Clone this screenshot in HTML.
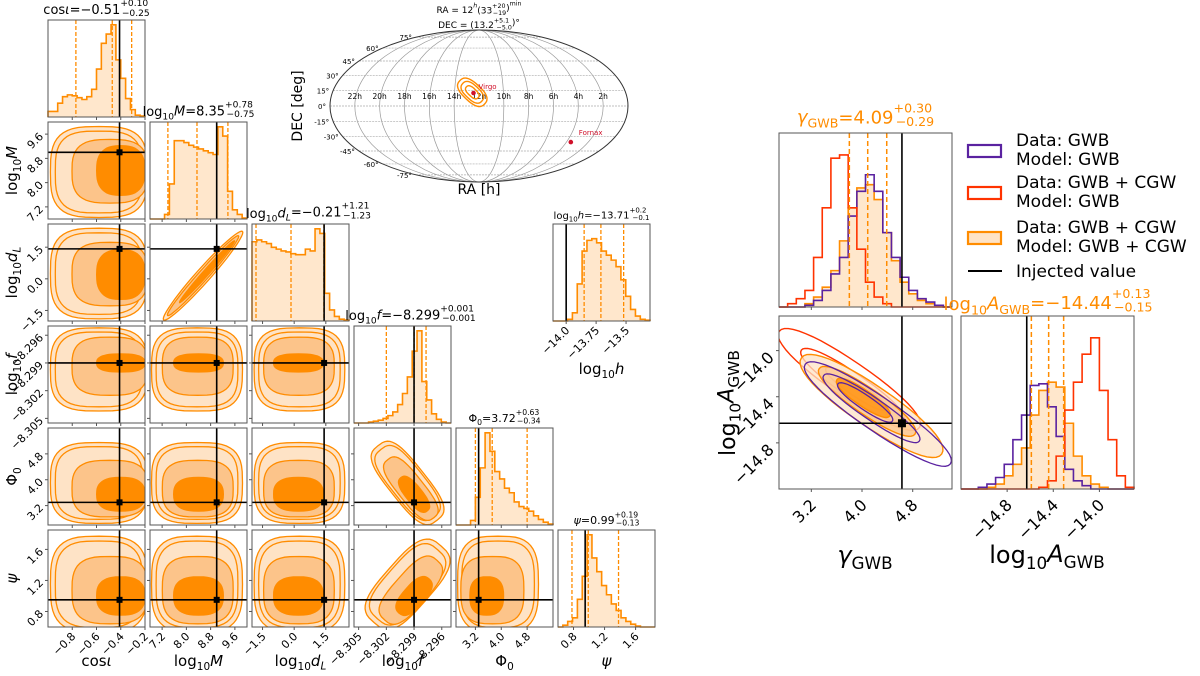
<!DOCTYPE html>
<html><head><meta charset="utf-8"><style>
html,body{margin:0;padding:0;background:#fff;}
svg{display:block;font-family:"DejaVu Sans","Liberation Sans",sans-serif;}
</style></head><body>
<svg id="fig" width="1200" height="676" viewBox="0 0 1200 676" xmlns="http://www.w3.org/2000/svg"></svg>
<script>
// ---------- DATA ----------
const paramNames = ["cosι","log10M","log10dL","log10f","Φ0","ψ"];
const paramRanges = [[-1.0,-0.2],[6.8,10.0],[-2.0,2.6],[-8.3055,-8.2950],[2.6,5.6],[0.6,1.85]];
const paramTruth = [-0.41, 9.0, 1.42, -8.2990, 3.3, 0.95];
const paramTicks = [[-0.8,-0.6,-0.4,-0.2],[7.2,8.0,8.8,9.6],[-1.5,0.0,1.5],[-8.305,-8.302,-8.299,-8.296],[3.2,4.0,4.8],[0.8,1.2,1.6]];
const paramTickLabels = [["−0.8","−0.6","−0.4","−0.2"],["7.2","8.0","8.8","9.6"],["−1.5","0.0","1.5"],["−8.305","−8.302","−8.299","−8.296"],["3.2","4.0","4.8"],["0.8","1.2","1.6"]];
const paramQuantiles = [[-0.77,-0.47,-0.31],[7.39,8.35,9.37],[-1.81,-0.15,1.41],[-8.3020,-8.2990,-8.2977],[3.2,3.72,4.8],[0.78,0.99,1.38]];
const histCos = [0.06,0.06,0.15,0.22,0.24,0.23,0.21,0.19,0.22,0.3,0.52,0.8,0.9,1.0,0.62,0.42,0.2,0.08,0.02,0.01];
const histM = [0,0,0,0.05,0.38,0.85,0.85,0.83,0.8,0.78,0.76,0.74,0.72,0.7,1.0,0.9,0.3,0.1,0.05,0.01];
const histDL = [0.86,0.88,0.86,0.84,0.8,0.78,0.76,0.75,0.73,0.72,0.72,0.78,0.76,1.0,0.95,0.3,0.12,0.05,0.02,0.01];
const histF = [0,0,0,0.01,0.02,0.03,0.05,0.08,0.12,0.2,0.32,0.5,0.78,1.0,0.45,0.25,0.1,0.04,0.01,0];
const histPhi = [0,0,0,0.05,0.3,0.62,1.0,0.8,0.58,0.5,0.4,0.35,0.25,0.2,0.18,0.15,0.1,0.06,0.03,0.01];
const histPsi = [0,0.02,0.06,0.1,0.3,0.55,1.0,0.75,0.6,0.45,0.35,0.25,0.18,0.1,0.06,0.03,0.01,0,0,0];
const diagHists = [histCos,histM,histDL,histF,histPhi,histPsi];
// 2D blobs (data units): centre, half-width, core centre, core scale
const blobCenter = [-0.58, 8.35, 0.25, -8.2997, 3.9, 1.15];
const blobHalfWidth = [0.40, 1.5, 2.15, 0.0045, 1.25, 0.62];
const blobCore = [-0.40, 8.4, 0.2, -8.2990, 3.55, 1.0];
const blobCoreScale = [0.5, 0.55, 0.55, 0.22, 0.42, 0.4];
// log10 h
const hRange = [-14.11,-13.3];
const hTicks = [-14.0,-13.75,-13.5];
const hTickLabels = ["−14.0","−13.75","−13.5"];
const hHist = [0,0,0,0.02,0.1,0.45,0.85,0.98,1.0,0.95,0.85,0.8,0.74,0.66,0.5,0.3,0.14,0.06,0.02,0.01];
const hQuantiles = [-13.85,-13.71,-13.52];
const hTruth = -14.0;
// sky map
const skyContour = [12.55, 13.2];
const virgo = [12.45, 12.5];
const fornax = [3.6, -35.5];
// GWB corner
const gRange = [2.69,5.42];
const aRange = [-15.2,-13.7];
const gTicks = [3.2,4.0,4.8];
const aTicks = [-14.8,-14.4,-14.0];
const gTruth = 4.63;
const aTruth = -14.63;
const gQuantiles = [3.80,4.09,4.39];
const aQuantiles = [-14.59,-14.44,-14.31];
const gHistOrange = [0,0,0,0.02,0.06,0.12,0.22,0.4,0.6,0.72,0.74,0.65,0.45,0.28,0.15,0.08,0.04,0.02,0.01,0];
const gHistPurple = [0,0,0,0.01,0.04,0.1,0.2,0.3,0.55,0.7,0.8,0.7,0.45,0.3,0.18,0.1,0.05,0.03,0.01,0];
const gHistRed = [0,0.02,0.05,0.1,0.3,0.6,0.9,0.92,0.6,0.35,0.15,0.06,0.02,0,0,0,0,0,0,0];
const aHistOrange = [0,0,0,0.01,0.03,0.08,0.15,0.25,0.45,0.6,0.65,0.62,0.4,0.2,0.08,0.03,0.01,0,0,0];
const aHistPurple = [0,0,0.01,0.03,0.07,0.15,0.3,0.45,0.63,0.64,0.5,0.32,0.12,0.05,0.02,0,0,0,0,0];
const aHistRed = [0,0,0,0,0,0,0,0,0,0.01,0.05,0.2,0.48,0.65,0.82,0.92,0.6,0.3,0.08,0.01];
// ellipse series: [gamma, A, longPx, shortPx]
const ellOrange = [[4.15,-14.48,85,20],[4.08,-14.44,58,13],[4.02,-14.41,32,8]];
const ellPurple = [[4.25,-14.55,88,17],[4.15,-14.5,58,11],[4.05,-14.45,33,7]];
const ellRed = [[3.8,-14.25,85,18],[3.85,-14.3,62,12],[3.9,-14.33,36,7]];

// ---------- HELPERS ----------
const NS="http://www.w3.org/2000/svg";
const svg=document.getElementById('fig');
function el(tag,attrs,parent){const e=document.createElementNS(NS,tag);for(const k in attrs)e.setAttribute(k,attrs[k]);(parent||svg).appendChild(e);return e;}
const OR="#ff8c00", LIGHT="#fee3c6", MID="#fcc48a", PUR="#5a22a0", RED="#ff3300", FR="#555";
function lin(r,a,b){return v=>a+(v-r[0])/(r[1]-r[0])*(b-a);}
function stepPath(counts,xs,y0,h,maxv){let d="";const n=counts.length;for(let k=0;k<n;k++){const x1=xs(k/n),x2=xs((k+1)/n),y=y0-counts[k]/maxv*h;d+=(k===0?`M${x1},${y0}L${x1},${y}`:`L${x1},${y}`)+`L${x2},${y}`;}d+=`L${xs(1)},${y0}`;return d;}
function drawHist(counts,px,py,w,h,color,fill,maxv,name){
  const d=stepPath(counts,f=>px+f*w,py+h,h*0.95,maxv);
  const p=el('path',{d:d,fill:fill?fill:"none","fill-opacity":fill?0.55:1,stroke:color,"stroke-width":1.6});
  
  
}
function frame(x,y,w,h,name){const r=el('rect',{x:x,y:y,width:w,height:h,fill:"none",stroke:FR,"stroke-width":1});}
function superPath(cx,cy,a,b,ang,n){let d="";for(let k=0;k<=48;k++){const t=k/48*2*Math.PI,c=Math.cos(t),s=Math.sin(t);let x=a*Math.sign(c)*Math.pow(Math.abs(c),2/n),y=b*Math.sign(s)*Math.pow(Math.abs(s),2/n);const ca=Math.cos(ang),sa=Math.sin(ang);d+=(k?"L":"M")+(cx+x*ca-y*sa).toFixed(1)+","+(cy+x*sa+y*ca).toFixed(1);}return d+"Z";}
function text(str,x,y,size,opts,parent){const t=el('text',Object.assign({x:x,y:y,"font-size":size,fill:"#000","text-anchor":"middle"},opts||{}),parent);t.textContent=str;return t;}
function mathTitle(parts,x,y,size,color,name){
  const t=el('text',{x:x,y:y,"font-size":size,fill:color||"#000","text-anchor":"middle"});
  
  parts.forEach(p=>{const s=el('tspan',{},t);if(p.sub){s.setAttribute('font-size',size*0.7);s.setAttribute('dy',size*0.25);}if(p.it)s.setAttribute('font-style','italic');if(p.up){s.setAttribute('font-size',size*0.7);s.setAttribute('dy',-size*0.6);}if(p.dn){s.setAttribute('font-size',size*0.7);s.setAttribute('dx',-size*0.7*p.w);s.setAttribute('dy',size*0.75);}if(p.back)s.setAttribute('dy',p.back);s.textContent=p.t;});
  return t;
}

// ---------- CORNER GRID ----------
const X0=48,Y0=20,STEP=102,S=97;
const xp=[];
for(let i=0;i<6;i++){xp.push(lin(paramRanges[i],X0+i*STEP,X0+i*STEP+S));}
for(let i=0;i<6;i++){
  for(let j=0;j<i;j++){
    const px=X0+j*STEP,py=Y0+i*STEP;
    const g=el('g',{});
    el('clipPath',{id:`c${j}${i}`},g);el('rect',{x:px,y:py,width:S,height:S},g.lastChild);
    const cg=el('g',{"clip-path":`url(#c${j}${i})`},g);
    const X=xp[j];
    const Yrow=lin(paramRanges[i],py+S,py);
    if(j===1&&i===2){
      const x1=X(7.25),y1=Yrow(-1.95),x2=X(9.85),y2=Yrow(2.25);
      const ang=Math.atan2(y2-y1,x2-x1),L=Math.hypot(x2-x1,y2-y1)/2,cx=(x1+x2)/2,cy=(y1+y2)/2;
      el('path',{d:superPath(cx,cy,L,7,ang,2),fill:LIGHT,stroke:OR,"stroke-width":1.3},cg);
      el('path',{d:superPath(cx,cy,L*0.9,5,ang,2),fill:MID,stroke:OR,"stroke-width":1.3},cg);
      el('path',{d:superPath(cx+4,cy-4,L*0.7,3,ang,2),fill:OR,stroke:OR,"stroke-width":1},cg);
    } else {
      let ang=0,la=1,lb=1;
      if(j===3&&i===4){ang=0.9;la=0.82;lb=0.32;}
      if(j===3&&i===5){ang=-0.85;la=0.8;lb=0.38;}
      const cx=X(blobCenter[j]),cy=Yrow(blobCenter[i]);
      const a=Math.abs(X(blobCenter[j]+blobHalfWidth[j])-cx),b=Math.abs(Yrow(blobCenter[i]+blobHalfWidth[i])-cy);
      const A=ang?Math.hypot(a,b)*la:a, B=ang?Math.hypot(a,b)*lb:b;
      const ccx=X(blobCore[j]),ccy=Yrow(blobCore[i]);
      const csx=ang?0.45:blobCoreScale[j], csy=ang?0.45:blobCoreScale[i];
      el('path',{d:superPath(cx,cy,A,B,ang,3.2),fill:LIGHT,stroke:OR,"stroke-width":1.3},cg);
      el('path',{d:superPath(cx,cy,A*0.9,B*0.9,ang,3.2),fill:"none",stroke:OR,"stroke-width":1.3},cg);
      el('path',{d:superPath((cx+ccx)/2,(cy+ccy)/2,A*0.78,B*0.7,ang,3),fill:MID,stroke:OR,"stroke-width":1.3},cg);
      el('path',{d:superPath(ccx,ccy,A*csx,B*csy,ang,2.6),fill:OR,stroke:OR,"stroke-width":1},cg);
    }
    const tx=X(paramTruth[j]),ty=Yrow(paramTruth[i]);
    el('line',{x1:tx,y1:py,x2:tx,y2:py+S,stroke:"#000","stroke-width":1.6},g);
    el('line',{x1:px,y1:ty,x2:px+S,y2:ty,stroke:"#000","stroke-width":1.6},g);
    el('rect',{x:tx-3,y:ty-3,width:6,height:6,fill:"#000"},g);
    frame(px,py,S,S,`panel-frame-${j}-${i}`);
    paramTicks[j].forEach(v=>{const x=X(v);if(x>=px&&x<=px+S)el('line',{x1:x,y1:py+S,x2:x,y2:py+S+3,stroke:FR});});
    paramTicks[i].forEach(v=>{const y=Yrow(v);if(y>=py&&y<=py+S)el('line',{x1:px-3,y1:y,x2:px,y2:y,stroke:FR});});
  }
  const px=X0+i*STEP,py=Y0+i*STEP;
  const mx=Math.max(...diagHists[i]);
  drawHist(diagHists[i],px,py,S,S,OR,"#ffd4a3",mx,`hist-${i}`);
  paramQuantiles[i].forEach(q=>{const x=xp[i](q);const l=el('line',{x1:x,y1:py,x2:x,y2:py+S,stroke:OR,"stroke-width":1.3,"stroke-dasharray":"4,2"});});
  const tx=xp[i](paramTruth[i]);el('line',{x1:tx,y1:py,x2:tx,y2:py+S,stroke:"#000","stroke-width":1.6});
  frame(px,py,S,S,`hist-frame-${i}`);
  paramTicks[i].forEach(v=>{const x=xp[i](v);if(x>=px&&x<=px+S)el('line',{x1:x,y1:py+S,x2:x,y2:py+S+3,stroke:FR});});
}
for(let j=0;j<6;j++){const y=Y0+5*STEP+S;paramTicks[j].forEach((v,k)=>{const x=xp[j](v);const t=text(paramTickLabels[j][k],x+4,y+10,11,{"text-anchor":"end",transform:`rotate(-45 ${x+4} ${y+10})`});});}
for(let i=1;i<6;i++){const py=Y0+i*STEP;const Yrow=lin(paramRanges[i],py+S,py);paramTicks[i].forEach((v,k)=>{const y=Yrow(v);if(y<py-2||y>py+S+2)return;const t=text(paramTickLabels[i][k],44,y+3,11,{"text-anchor":"end",transform:`rotate(-45 44 ${y+3})`});});}
const xl=[[{t:"cos"},{t:"ι",it:1}],[{t:"log"},{t:"10",sub:1},{t:"M",it:1,back:-4}],[{t:"log"},{t:"10",sub:1},{t:"d",it:1,back:-4},{t:"L",sub:1,it:1}],[{t:"log"},{t:"10",sub:1},{t:"f",it:1,back:-4}],[{t:"Φ"},{t:"0",sub:1}],[{t:"ψ",it:1}]];
for(let j=0;j<6;j++){mathTitle(xl[j],X0+j*STEP+S/2,666,15,"#000",`x-axis-label-${j}`);}
for(let i=1;i<6;i++){const cy=Y0+i*STEP+S/2;const t=mathTitle(xl[i],0,0,15,"#000",`y-axis-label-${i}`);t.setAttribute('transform',`translate(17 ${cy}) rotate(-90)`);}
const titles=[
 [{t:"cos"},{t:"ι",it:1},{t:"=−0.51"},{t:"+0.10",up:1},{t:"−0.25",dn:1,w:2.9}],
 [{t:"log"},{t:"10",sub:1},{t:"M",it:1,back:-4},{t:"=8.35"},{t:"+0.78",up:1},{t:"−0.75",dn:1,w:2.9}],
 [{t:"log"},{t:"10",sub:1},{t:"d",it:1,back:-4},{t:"L",sub:1,it:1},{t:"=−0.21",back:-4},{t:"+1.21",up:1},{t:"−1.23",dn:1,w:2.9}],
 [{t:"log"},{t:"10",sub:1},{t:"f",it:1,back:-4},{t:"=−8.299"},{t:"+0.001",up:1},{t:"−0.001",dn:1,w:3.5}],
 [{t:"Φ"},{t:"0",sub:1},{t:"=3.72",back:-3},{t:"+0.63",up:1},{t:"−0.34",dn:1,w:2.9}],
 [{t:"ψ",it:1},{t:"=0.99"},{t:"+0.19",up:1},{t:"−0.13",dn:1,w:2.9}]];
const tsz=[13,13,13,13,11,11];
for(let i=0;i<6;i++){mathTitle(titles[i],X0+i*STEP+S/2+(i===2||i===3?8:0),Y0+i*STEP-6,tsz[i],"#000",`title-${i}`);}

// ---------- log10 h ----------
{const px=553,py=224,w=97,h=97;const X=lin(hRange,px,px+w);
 drawHist(hHist,px,py,w,h,OR,"#ffd4a3",Math.max(...hHist)*1.12,'hist-log10h');
 hQuantiles.forEach(q=>{const x=X(q);el('line',{x1:x,y1:py,x2:x,y2:py+h,stroke:OR,"stroke-width":1.3,"stroke-dasharray":"4,2"});});
 el('line',{x1:X(hTruth),y1:py,x2:X(hTruth),y2:py+h,stroke:"#000","stroke-width":1.6});
 frame(px,py,w,h,'log10h-frame');
 hTicks.forEach((v,k)=>{const x=X(v);el('line',{x1:x,y1:py+h,x2:x,y2:py+h+3,stroke:FR});const t=text(hTickLabels[k],x+4,py+h+10,11,{"text-anchor":"end",transform:`rotate(-45 ${x+4} ${py+h+10})`});});
 mathTitle([{t:"log"},{t:"10",sub:1},{t:"h",it:1,back:-3},{t:"=−13.71"},{t:"+0.2",up:1},{t:"−0.1",dn:1,w:2}],px+w/2,py-5,10,"#000",'log10h-title');
 mathTitle([{t:"log"},{t:"10",sub:1},{t:"h",it:1,back:-4}],px+w/2,374,15,"#000",'log10h-axis-label');
}

// ---------- SKY MAP ----------
{const cx=479,cy=106,rx=149,ry=76;
 const g=el('g',{});
 function M(h,dec){const phi=dec*Math.PI/180;let th=phi;for(let k=0;k<30;k++){const d=2+2*Math.cos(2*th);if(d<1e-9)break;th-=(2*th+Math.sin(2*th)-Math.PI*Math.sin(phi))/d;}return [cx+(12-h)/12*rx*Math.cos(th),cy-ry*Math.sin(th)];}
 for(let k=1;k<6;k++)el('ellipse',{cx:cx,cy:cy,rx:rx*k/6,ry:ry,fill:"none",stroke:"#999","stroke-width":0.7},g);
 [-75,-60,-45,-30,-15,0,15,30,45,60,75].forEach(d=>{const a=M(0.0001,d),b=M(23.9999,d);el('line',{x1:b[0],y1:a[1],x2:a[0],y2:a[1],stroke:"#aaa","stroke-width":0.7,"stroke-dasharray":"2,1"},g);
   text(d+"°",b[0]-4,a[1]+3,7,{"text-anchor":"end"},g);});
 el('ellipse',{cx:cx,cy:cy,rx:rx,ry:ry,fill:"none",stroke:"#333","stroke-width":1},g);
 for(let h=2;h<=22;h+=2){const p=M(h,0);text(h+"h",p[0],cy-7,7.5,{},g);}
 const c=M(skyContour[0],skyContour[1]);
 [[17,9],[13,7],[8,4]].forEach(s=>{el('path',{d:superPath(c[0],c[1],s[0],s[1],0.75,2.6),fill:"none",stroke:OR,"stroke-width":1.4},g);});
 const v=M(virgo[0],virgo[1]);el('circle',{cx:v[0],cy:v[1],r:2.3,fill:"#d0102a"},g);text("Virgo",v[0]+5,v[1]-4,7,{"text-anchor":"start",fill:"#d0102a"},g);
 const f=M(fornax[0],fornax[1]);el('circle',{cx:f[0],cy:f[1],r:2.3,fill:"#d0102a"},g);text("Fornax",f[0]+8,f[1]-7,7,{"text-anchor":"start",fill:"#d0102a"},g);
 mathTitle([{t:"RA = 12"},{t:"h",up:1,it:1},{t:"(33",back:6},{t:"+20",up:1},{t:"−19",dn:1,w:2},{t:")",back:-4},{t:"min",up:1}],cx,13,9,"#000",'sky-title-ra');
 mathTitle([{t:"DEC = (13.2"},{t:"+5.1",up:1},{t:"−5.0",dn:1,w:2},{t:")°",back:-4}],cx,28,9,"#000",'sky-title-dec');
 const dl=text("DEC [deg]",0,0,14,{transform:`translate(302 ${cy}) rotate(-90)`});
 const rl=text("RA [h]",cx,194,14);
}

// ---------- GWB CORNER ----------
{const gx=779,gy=133,W=173,H=174,by=316,ax=961;
 const Gx=lin(gRange,gx,gx+W);
 const gmax=1.0;
 drawHist(gHistOrange,gx,gy,W,H,OR,"#ffd4a3",gmax,'gamma-hist-orange');
 drawHist(gHistPurple,gx,gy,W,H,PUR,null,gmax,'gamma-hist-purple');
 drawHist(gHistRed,gx,gy,W,H,RED,null,gmax,'gamma-hist-red');
 gQuantiles.forEach(q=>{const x=Gx(q);el('line',{x1:x,y1:gy,x2:x,y2:gy+H,stroke:OR,"stroke-width":1.5,"stroke-dasharray":"5,3"});});
 el('line',{x1:Gx(gTruth),y1:gy,x2:Gx(gTruth),y2:gy+H,stroke:"#000","stroke-width":1.6});
 frame(gx,gy,W,H,'gamma-hist-frame');
 gTicks.forEach(v=>el('line',{x1:Gx(v),y1:gy+H,x2:Gx(v),y2:gy+H+3,stroke:FR}));
 mathTitle([{t:"γ",it:1},{t:"GWB",sub:1},{t:"=4.09",back:-4},{t:"+0.30",up:1},{t:"−0.29",dn:1,w:2.9}],gx+W/2,gy-10,18,OR,'gamma-title');
 const Ay=lin(aRange,by+H-1,by);
 const g2=el('g',{});
 el('clipPath',{id:'cga'},g2);el('rect',{x:gx,y:by,width:W,height:H-1},g2.lastChild);
 const cg=el('g',{"clip-path":"url(#cga)"},g2);
 const ang=0.6;
 ellRed.forEach((e,k)=>el('path',{d:superPath(Gx(e[0]),Ay(e[1]),e[2],e[3],ang,2.2),fill:"none",stroke:RED,"stroke-width":1.4},cg));
 const ofill=[LIGHT,MID,OR];
 ellOrange.forEach((e,k)=>el('path',{d:superPath(Gx(e[0]),Ay(e[1]),e[2],e[3],ang,2.2),fill:ofill[k],"fill-opacity":0.75,stroke:OR,"stroke-width":1.4},cg));
 ellPurple.forEach((e,k)=>el('path',{d:superPath(Gx(e[0]),Ay(e[1]),e[2],e[3],ang,2.2),fill:"none",stroke:PUR,"stroke-width":1.3},cg));
 el('line',{x1:Gx(gTruth),y1:by,x2:Gx(gTruth),y2:by+H-1,stroke:"#000","stroke-width":1.6});
 el('line',{x1:gx,y1:Ay(aTruth),x2:gx+W,y2:Ay(aTruth),stroke:"#000","stroke-width":1.6});
 el('rect',{x:Gx(gTruth)-4,y:Ay(aTruth)-4,width:8,height:8,fill:"#000"});
 frame(gx,by,W,H-1,'gamma-A-frame');
 gTicks.forEach(v=>{const x=Gx(v);el('line',{x1:x,y1:by+H-1,x2:x,y2:by+H+2,stroke:FR});const t=text(v.toFixed(1),x+6,by+H+16,16,{"text-anchor":"end",transform:`rotate(-45 ${x+6} ${by+H+16})`});});
 aTicks.forEach(v=>{const y=Ay(v);el('line',{x1:gx-3,y1:y,x2:gx,y2:y,stroke:FR});const t=text("−"+Math.abs(v).toFixed(1),gx-4,y+8,16,{"text-anchor":"end",transform:`rotate(-45 ${gx-4} ${y+8})`});});
 const Ax=lin(aRange,ax,ax+W);
 drawHist(aHistOrange,ax,by,W,H-1,OR,"#ffd4a3",1.0,'A-hist-orange');
 drawHist(aHistPurple,ax,by,W,H-1,PUR,null,1.0,'A-hist-purple');
 drawHist(aHistRed,ax,by,W,H-1,RED,null,1.0,'A-hist-red');
 aQuantiles.forEach(q=>{const x=Ax(q);el('line',{x1:x,y1:by,x2:x,y2:by+H-1,stroke:OR,"stroke-width":1.5,"stroke-dasharray":"5,3"});});
 el('line',{x1:Ax(aTruth),y1:by,x2:Ax(aTruth),y2:by+H-1,stroke:"#000","stroke-width":1.6});
 frame(ax,by,W,H-1,'A-hist-frame');
 aTicks.forEach(v=>{const x=Ax(v);el('line',{x1:x,y1:by+H-1,x2:x,y2:by+H+2,stroke:FR});const t=text("−"+Math.abs(v).toFixed(1),x+6,by+H+16,16,{"text-anchor":"end",transform:`rotate(-45 ${x+6} ${by+H+16})`});});
 mathTitle([{t:"log"},{t:"10",sub:1},{t:"A",it:1,back:-5},{t:"GWB",sub:1},{t:"=−14.44",back:-5},{t:"+0.13",up:1},{t:"−0.15",dn:1,w:2.9}],1048,by-6,18,OR,'A-title');
 mathTitle([{t:"γ",it:1},{t:"GWB",sub:1}],865,563,24,"#000",'gamma-axis-label');
 mathTitle([{t:"log"},{t:"10",sub:1},{t:"A",it:1,back:-7},{t:"GWB",sub:1}],1047,563,24,"#000",'A-axis-label-x');
 const yl=mathTitle([{t:"log"},{t:"10",sub:1},{t:"A",it:1,back:-7},{t:"GWB",sub:1}],0,0,22,"#000",'A-axis-label-y');
 yl.setAttribute('transform',`translate(735 ${by+H/2}) rotate(-90)`);
}
// ---------- LEGEND ----------
{const lg=el('g',{});
 const items=[[PUR,"none","Data: GWB","Model: GWB",151],[RED,"none","Data: GWB + CGW","Model: GWB",193],[OR,"#fee3c6","Data: GWB + CGW","Model: GWB + CGW",238]];
 items.forEach((it,k)=>{const e=el('g',{},lg);
  el('rect',{x:968,y:it[4]-6,width:33,height:12,fill:it[1],stroke:it[0],"stroke-width":2.2},e);
  text(it[2],1016,it[4]-5,17,{"text-anchor":"start"},e);text(it[3],1016,it[4]+14,17,{"text-anchor":"start"},e);});
 const e=el('g',{},lg);
 el('line',{x1:968,y1:271,x2:1002,y2:271,stroke:"#000","stroke-width":2},e);text("Injected value",1016,277,17,{"text-anchor":"start"},e);
}
</script>
</body></html>
